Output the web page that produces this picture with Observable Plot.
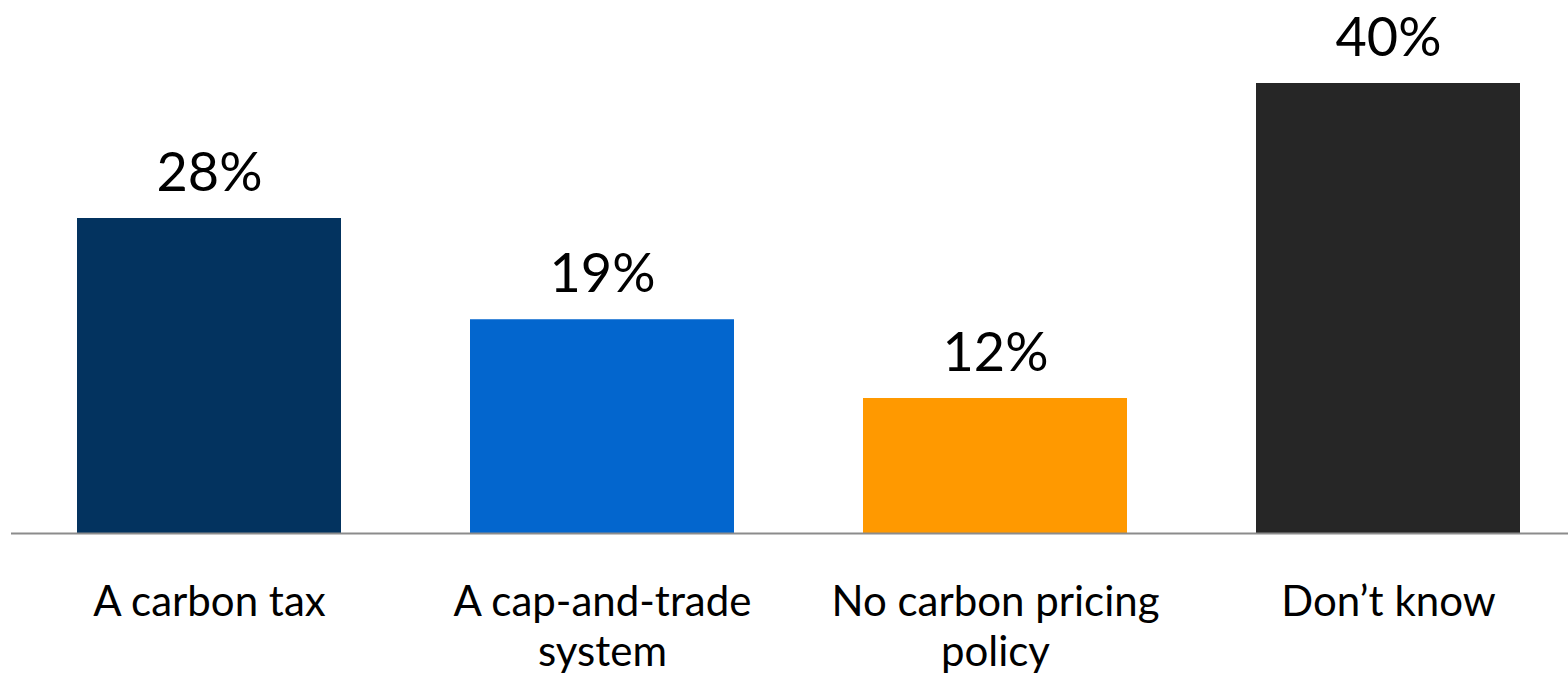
<!DOCTYPE html>
<html>
<head>
<meta charset="utf-8">
<script src="https://cdn.jsdelivr.net/npm/d3@7"></script>
<script src="https://cdn.jsdelivr.net/npm/@observablehq/plot@0.6"></script>
<style>
  html, body { margin: 0; padding: 0; background: #fff; }
  #chart svg { display: block; }
</style>
</head>
<body>
<div id="chart"></div>
<script>
const categories = ["A carbon tax", "A cap-and-trade system", "No carbon pricing policy", "Don\u2019t know"];
const tickLabels = ["A carbon tax", "A cap-and-trade\nsystem", "No carbon pricing\npolicy", "Don\u2019t know"];
const values = [28, 19, 12, 40];
const colors = ["#03335F", "#0366CE", "#FF9900", "#262626"];

const data = categories.map((c, i) => ({category: c, value: values[i], color: colors[i]}));

const chart = Plot.plot({
  width: 1568,
  height: 678,
  marginLeft: 11,
  marginRight: 0,
  marginTop: 83,
  marginBottom: 145,
  style: {fontFamily: "Lato, 'Open Sans', sans-serif", color: "#000", background: "#fff"},
  x: {domain: categories, paddingInner: 0.327, paddingOuter: 0.141, align: 0.58},
  y: {domain: [0, 40], axis: null},
  marks: [
    Plot.barY(data, {x: "category", y: "value", fill: "color"}),
    Plot.ruleY([0], {stroke: "#8c8c8c", strokeWidth: 2}),
    Plot.text(data, {x: "category", y: "value", text: d => `${d.value}%`, lineAnchor: "bottom", dy: -28, fontSize: 54, fill: "#000"}),
    Plot.axisX({tickSize: 0, tickPadding: 48, fontSize: 42, lineHeight: 1.17, fill: "#000",
      tickFormat: d => tickLabels[categories.indexOf(d)], label: null})
  ]
});
document.getElementById("chart").appendChild(chart);
</script>
</body>
</html>
